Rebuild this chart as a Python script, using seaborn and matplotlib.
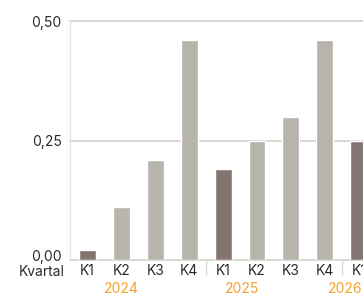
import matplotlib
matplotlib.use("Agg")
import matplotlib.pyplot as plt
import matplotlib.transforms as mtransforms
import seaborn as sns
import pandas as pd

# data
years = ["2024", "2024", "2024", "2024", "2025", "2025", "2025", "2025", "2026"]
quarters = ["K1", "K2", "K3", "K4", "K1", "K2", "K3", "K4", "K1"]
values = [0.02, 0.11, 0.21, 0.46, 0.19, 0.25, 0.30, 0.46, 0.25]
y_ticks = [0.0, 0.25, 0.5]
y_labels = ["0,00", "0,25", "0,50"]
year_names = ["2024", "2025", "2026"]

DARK = "#877370"
LIGHT = "#b9b5a9"
GRID = "#d6d4cf"
TEXT = "#2b2b2b"
ORANGE = "#f5a02c"

sns.set_style("white")
plt.rcParams["font.family"] = ["Inter", "DejaVu Sans"]

df = pd.DataFrame({
    "slot": [f"{q} {y}" for q, y in zip(quarters, years)],
    "quarter": quarters,
    "year": years,
    "value": values,
})
df["kind"] = ["first" if q == "K1" else "other" for q in quarters]

fig = plt.figure(figsize=(3.63, 2.94), dpi=100)
ax = fig.add_axes([70 / 363, 1 - 260 / 294, 293 / 363, 239 / 294])

sns.barplot(data=df, x="slot", y="value", hue="kind",
            palette={"first": DARK, "other": LIGHT},
            width=0.5, dodge=False, legend=False, ax=ax, zorder=3)

ax.set_xlim(-0.516, 8.127)
ax.set_ylim(0, 0.5)
ax.set_yticks(y_ticks)
ax.set_yticklabels(y_labels)
ax.set_xticks(range(len(quarters)))
ax.set_xticklabels(quarters)
ax.set_xlabel("")
ax.set_ylabel("")

for yv in y_ticks:
    ax.axhline(yv, color=GRID, lw=1.3, zorder=1, clip_on=False)

for s in ["top", "right", "bottom"]:
    ax.spines[s].set_visible(False)
ax.spines["left"].set_color("#e4e3e0")
ax.spines["left"].set_linewidth(0.9)

ax.tick_params(axis="both", length=0, labelsize=10, labelcolor=TEXT)
ax.tick_params(axis="y", pad=6)
ax.tick_params(axis="x", pad=3)

# lift the bottom y label so it sits above the "Kvartal" caption
lift = mtransforms.ScaledTranslation(0, 4 / 100, fig.dpi_scale_trans)
ylabels = ax.get_yticklabels()
ylabels[0].set_transform(ylabels[0].get_transform() + lift)

# year separators and labels below the quarter ticks
trans = mtransforms.blended_transform_factory(ax.transData, ax.transAxes)
year_starts = [i for i in range(1, len(years)) if years[i] != years[i - 1]]
for i in year_starts:
    ax.plot([i - 0.5, i - 0.5], [0, -0.063], transform=trans,
            color="#dcdbd7", lw=1.0, clip_on=False)

year_pos = [1.0, 4.57, 7.6]
for name, xp in zip(year_names, year_pos):
    ax.text(xp, -0.121, name, transform=trans, ha="center", va="center",
            fontsize=10, color=ORANGE)

ax.text(-0.017, -0.052, "Kvartal", transform=ax.transAxes, ha="right",
        va="center", fontsize=10, color=TEXT)

fig.savefig("out.png", dpi=100)
